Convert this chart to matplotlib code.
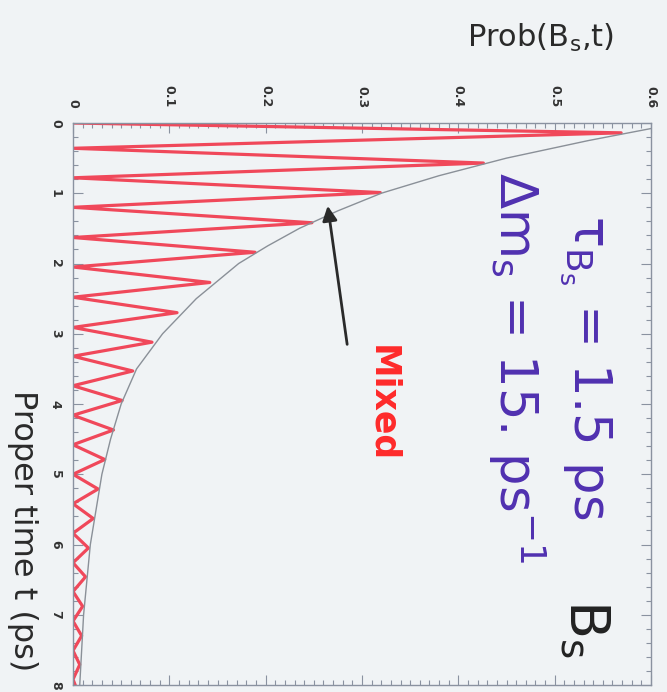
import matplotlib
matplotlib.use("Agg")
import matplotlib.pyplot as plt
from matplotlib.ticker import MultipleLocator

peak_t = [0.14, 0.57, 0.99, 1.42, 1.84, 2.27, 2.70, 3.12, 3.53, 3.95,
          4.37, 4.79, 5.21, 5.63, 6.05, 6.46, 6.88, 7.30, 7.71, 8.13]
peak_p = [0.569, 0.426, 0.319, 0.248, 0.189, 0.142, 0.108, 0.082, 0.062, 0.051,
          0.042, 0.033, 0.026, 0.021, 0.016, 0.013, 0.010, 0.009, 0.007, 0.006]
trough_t = [0.0, 0.36, 0.78, 1.20, 1.63, 2.05, 2.48, 2.91, 3.32, 3.74,
            4.16, 4.58, 5.00, 5.42, 5.84, 6.26, 6.67, 7.09, 7.51, 7.92]
trough_p = [0.0, 0.0, 0.0, 0.0, 0.0, 0.0, 0.0, 0.0, 0.0, 0.0,
            0.0, 0.0, 0.0, 0.0, 0.0, 0.0, 0.0, 0.0, 0.0, 0.0]

env_t = [0.0, 0.25, 0.5, 0.75, 1.0, 1.25, 1.5, 1.75, 2.0, 2.5,
         3.0, 3.5, 4.0, 4.5, 5.0, 5.5, 6.0, 7.0, 8.0]
env_p = [0.63, 0.535, 0.45, 0.38, 0.32, 0.275, 0.235, 0.202, 0.172, 0.128,
         0.093, 0.066, 0.050, 0.039, 0.030, 0.024, 0.018, 0.011, 0.007]

prob_ticks = [0.0, 0.1, 0.2, 0.3, 0.4, 0.5, 0.6]
prob_labels = ["0", "0.1", "0.2", "0.3", "0.4", "0.5", "0.6"]
time_ticks = [0, 1, 2, 3, 4, 5, 6, 7, 8]

W, H = 667, 692
bg = "#f0f3f5"
frame = "#8a92a0"
blue = "#5030b0"

plt.rcParams["font.family"] = ["DejaVu Sans"]

fig = plt.figure(figsize=(W / 100, H / 100), dpi=100, facecolor=bg)
ax = fig.add_axes([73 / W, 1 - 685 / H, 578 / W, 562 / H], facecolor=bg)

pts = sorted(zip(peak_t + trough_t, peak_p + trough_p))
ax.plot([p for t, p in pts], [t for t, p in pts], color="#f0485a", lw=2.3,
        solid_joinstyle="round")
ax.plot(env_p, env_t, color="#8a9098", lw=1.0)

ax.set_xlim(0, 0.6)
ax.set_ylim(8, 0)
ax.xaxis.tick_top()
ax.set_xticks(prob_ticks)
ax.set_xticklabels(prob_labels)
ax.set_yticks(time_ticks)
ax.xaxis.set_minor_locator(MultipleLocator(0.01))
ax.yaxis.set_minor_locator(MultipleLocator(0.2))
ax.tick_params(which="both", direction="in", color=frame, width=0.8,
               top=True, bottom=True, left=True, right=True)
ax.tick_params(which="major", length=7)
ax.tick_params(which="minor", length=3.5)
ax.tick_params(axis="x", pad=11, labelsize=9, labelcolor="#333333")
ax.tick_params(axis="y", pad=8, labelsize=9, labelcolor="#333333")
for lab in ax.get_xticklabels():
    lab.set_rotation(-90)
    lab.set_ha("center")
    lab.set_va("bottom")
    lab.set_fontweight("bold")
for lab in ax.get_yticklabels():
    lab.set_rotation(-90)
    lab.set_ha("right")
    lab.set_va("center")
    lab.set_fontweight("bold")
for sp in ax.spines.values():
    sp.set_color(frame)
    sp.set_linewidth(1.0)

fig.text(540 / W, 1 - 38 / H, r"Prob(B$_\mathregular{s}$,t)", fontsize=22,
         ha="center", va="center", color="#2a2a2a")
fig.text(22 / W, 1 - 531 / H, "Proper time t (ps)", fontsize=23,
         rotation=-90, ha="center", va="center", color="#2a2a2a")

ax.text(0.532, 7.19, r"B$_\mathregular{s}$", fontsize=40, rotation=-90,
        ha="center", va="center", color="#222222")
ax.text(0.532, 3.48, r"τ$_{\mathregular{B}_\mathregular{s}}$ = 1.5 ps",
        fontsize=37, rotation=-90, ha="center", va="center", color=blue)
ax.text(0.461, 3.48, r"Δm$_\mathregular{s}$ = 15. ps$^\mathregular{-1}$",
        fontsize=37, rotation=-90, ha="center", va="center", color=blue)
ax.text(0.321, 4.0, "Mixed", fontsize=25, fontweight="bold", rotation=-90,
        ha="center", va="center", color="#ff2a2a")
ax.annotate("", xy=(0.264, 1.14), xytext=(0.285, 3.19),
            arrowprops=dict(arrowstyle="-|>", color="#2a2a2a", lw=2,
                            mutation_scale=22))

fig.savefig("out.png", dpi=100, facecolor=bg)
